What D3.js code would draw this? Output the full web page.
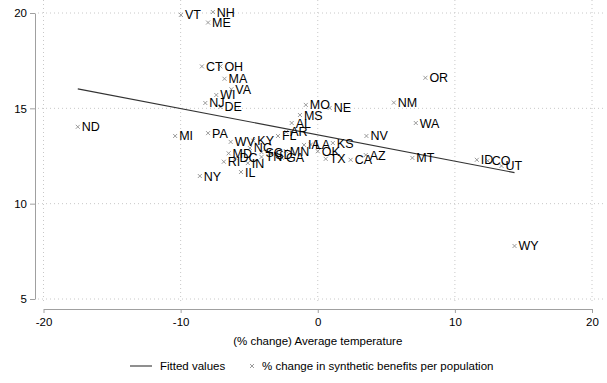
<!DOCTYPE html>
<html>
<head>
<meta charset="utf-8">
<script src="https://cdn.jsdelivr.net/npm/d3@7"></script>
<style>
  body { margin: 0; background: #fff; }
  text { font-family: "Liberation Sans", Arial, sans-serif; }
</style>
</head>
<body>
<svg class="chart" width="607" height="383"></svg>
<script>
// states, % change in avg temperature, % change in synthetic benefits per population
const states = ["VT","NH","ME","CT","OH","MA","VA","WI","NJ","DE","ND","MI","PA","WV","KY","NC","SC","MD","RI","DC","IN","IL","NY","FL","AR","AL","MS","MO","NE","MN","GA","TN","SD","IA","LA","OK","KS","TX","CA","AZ","NV","NM","OR","WA","MT","ID","CO","UT","WY"]
const tempChange = [-9.98,-7.65,-8.0,-8.45,-7.1,-6.8,-6.3,-7.4,-8.2,-7.1,-17.5,-10.4,-8.0,-6.35,-4.7,-4.95,-4.1,-6.5,-6.85,-6.0,-5.1,-5.6,-8.6,-2.9,-2.3,-1.9,-1.3,-0.87,0.87,-2.33,-2.6,-4.1,-3.4,-1.0,-0.5,0.0,1.1,0.58,2.4,3.5,3.55,5.55,7.85,7.15,6.9,11.6,12.4,13.4,14.35]
const benefitChange = [19.9,20.05,19.5,17.2,17.2,16.55,16.0,15.7,15.28,15.07,14.03,13.55,13.7,13.24,13.3,12.92,12.7,12.64,12.2,12.4,12.13,11.66,11.45,13.55,13.76,14.23,14.65,15.18,15.02,12.76,12.4,12.45,12.6,13.08,13.1,12.75,13.18,12.35,12.3,12.55,13.55,15.3,16.6,14.23,12.4,12.3,12.25,11.98,7.78]

// fitted line end points
const fitX = [-17.5, 14.35]
const fitY = [16.02, 11.63]

const xTicks = [-20, -10, 0, 10, 20]
const yTicks = [5, 10, 15, 20]

const data = states.map((s, i) => ({ state: s, x: tempChange[i], y: benefitChange[i] }))

const svg = d3.select('.chart')
const x = d3.scaleLinear().domain([-20, 20]).range([43.5, 592])
const y = d3.scaleLinear().domain([5, 20]).range([299, 13])

// grid
svg.append('g').selectAll('line')
  .data(yTicks)
  .join('line')
  .attr('x1', 38).attr('x2', 604)
  .attr('y1', d => y(d)).attr('y2', d => y(d))
  .attr('stroke', '#c8c8c8').attr('stroke-width', 1).attr('stroke-dasharray', '1,3')

svg.append('g').selectAll('line')
  .data(xTicks)
  .join('line')
  .attr('x1', d => x(d)).attr('x2', d => x(d))
  .attr('y1', 0).attr('y2', 301)
  .attr('stroke', '#c8c8c8').attr('stroke-width', 1).attr('stroke-dasharray', '1,3')

// axes
const xAxis = svg.append('g')
  .attr('transform', 'translate(0,309)')
  .call(d3.axisBottom(x).tickValues(xTicks).tickSize(4).tickSizeOuter(0).tickFormat(d3.format('d')))
const yAxis = svg.append('g')
  .attr('transform', 'translate(35,0)')
  .call(d3.axisLeft(y).tickValues(yTicks).tickSize(5).tickSizeOuter(0))

;[xAxis, yAxis].forEach(g => {
  g.select('.domain').attr('stroke', '#a0a0a0')
  g.selectAll('.tick line').attr('stroke', '#a0a0a0')
  g.selectAll('.tick text').attr('fill', '#000').style('font-size', '11.5px')
    .style('font-family', '"Liberation Sans", Arial, sans-serif')
})
xAxis.selectAll('.tick text').text(d => d < 0 ? '-' + Math.abs(d) : d)
  .attr('y', 13).attr('dy', '0.35em')
yAxis.selectAll('.tick text').attr('x', -8)

// fitted line
svg.append('path')
  .datum(fitX.map((v, i) => [v, fitY[i]]))
  .attr('d', d3.line().x(d => x(d[0])).y(d => y(d[1])))
  .attr('fill', 'none').attr('stroke', '#333').attr('stroke-width', 1.1)

// markers
const s = 2
svg.append('g').selectAll('path')
  .data(data)
  .join('path')
  .attr('d', d => {
    const px = x(d.x), py = y(d.y)
    return `M${px - s},${py - s}L${px + s},${py + s}M${px - s},${py + s}L${px + s},${py - s}`
  })
  .attr('stroke', '#909090').attr('stroke-width', 0.9)

// labels
svg.append('g').selectAll('text')
  .data(data)
  .join('text')
  .attr('x', d => x(d.x) + 4)
  .attr('y', d => y(d.y))
  .attr('dy', '0.36em')
  .style('font-size', '12.5px')
  .attr('fill', '#000')
  .text(d => d.state)

// x title
svg.append('text')
  .attr('x', x(0)).attr('y', 341)
  .attr('dy', '0.35em')
  .attr('text-anchor', 'middle')
  .style('font-size', '11.5px')
  .text('(% change) Average temperature')

// legend
const lg = svg.append('g').attr('transform', 'translate(0,366)')
lg.append('line').attr('x1', 130).attr('x2', 152).attr('y1', 0).attr('y2', 0)
  .attr('stroke', '#333').attr('stroke-width', 1.1)
lg.append('text').attr('x', 160).attr('y', 0).attr('dy', '0.35em').style('font-size', '11.5px').text('Fitted values')
lg.append('path').attr('d', `M${252 - s},${-s}L${252 + s},${s}M${252 - s},${s}L${252 + s},${-s}`)
  .attr('stroke', '#909090').attr('stroke-width', 0.9)
lg.append('text').attr('x', 262).attr('y', 0).attr('dy', '0.35em').style('font-size', '11.5px').text('% change in synthetic benefits per population')
</script>
</body>
</html>
